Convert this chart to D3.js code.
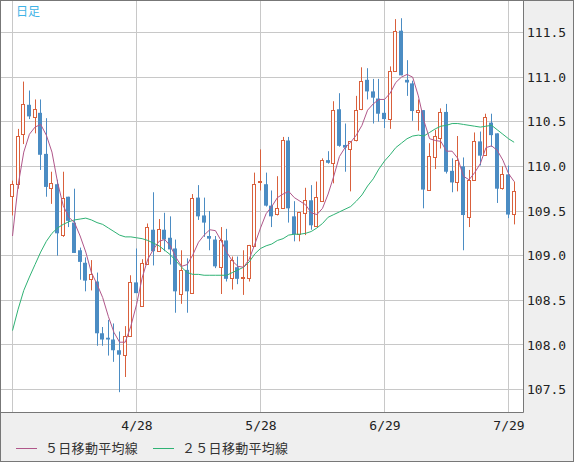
<!DOCTYPE html>
<html>
<head>
<meta charset="utf-8">
<script src="https://cdn.jsdelivr.net/npm/d3@7"></script>
<style>
  body { margin: 0; background: #fff; }
  svg { display: block; }
  .ax text { font-family: "DejaVu Sans Mono", monospace; font-size: 13px; fill: #222; }
  .lg { font-family: "Noto Sans CJK JP", sans-serif; font-size: 13px; fill: #333; }
</style>
</head>
<body>
<div id="chart"></div>
<script>
// daily candles, oldest first
var opens  = [109.67,109.80,110.36,110.69,110.56,110.60,110.14,109.76,109.80,109.24,
              109.66,109.37,109.06,108.92,108.73,108.71,108.13,108.08,108.06,107.94,
              107.89,108.09,108.70,108.44,108.91,109.29,109.05,109.29,109.20,109.08,
              108.57,108.84,108.59,109.65,109.45,109.22,109.18,108.87,109.17,108.75,
              108.87,108.75,108.75,109.11,109.83,109.80,109.56,109.46,109.53,110.29,
              109.44,109.24,109.47,109.62,109.33,109.61,110.07,110.04,110.64,110.24,
              110.19,110.29,110.65,110.97,110.84,110.76,110.60,110.53,111.07,111.52,
              110.97,110.93,110.61,110.63,109.74,110.10,110.32,110.61,109.95,109.82,
              110.00,109.44,109.84,110.28,110.12,110.49,110.37,109.75,109.91,109.46];
var highs  = [109.84,110.42,110.95,110.85,110.75,110.75,110.54,109.94,109.85,109.94,
              109.66,109.75,109.09,108.98,108.95,108.81,108.20,108.28,108.24,108.15,
              108.21,108.78,109.08,108.96,109.36,109.71,109.41,109.48,109.44,109.18,
              109.06,108.97,109.69,109.79,109.65,109.50,109.22,109.32,109.30,108.99,
              108.99,109.06,109.12,109.93,110.19,109.93,109.73,109.89,110.33,110.33,
              109.61,109.49,109.76,109.79,109.83,110.09,110.17,110.73,110.82,110.48,
              110.28,110.79,111.11,111.10,110.98,110.98,110.75,111.12,111.65,111.66,
              111.19,110.96,110.75,110.63,110.26,110.41,110.65,110.70,110.09,110.34,
              110.10,109.96,110.38,110.39,110.59,110.59,110.37,110.00,110.01,109.83];
var lows   = [109.45,109.75,110.25,110.53,110.37,109.96,109.66,109.58,109.00,109.21,
              109.32,109.03,108.73,108.60,108.61,107.99,107.99,107.88,107.81,107.47,
              107.64,108.09,108.58,108.43,108.91,108.89,109.05,109.05,108.90,108.36,
              108.46,108.36,108.57,109.40,109.21,109.06,108.86,108.57,108.71,108.62,
              108.68,108.56,108.71,109.11,109.73,109.55,109.32,109.45,109.53,109.37,
              109.16,109.16,109.23,109.29,109.33,109.61,110.03,109.81,110.22,109.94,
              109.72,110.28,110.63,110.75,110.48,110.50,110.43,110.42,111.07,111.02,
              110.79,110.51,110.40,109.53,109.73,109.97,110.20,109.92,109.71,109.72,
              109.06,109.32,109.84,110.01,110.12,110.22,109.59,109.74,109.42,109.35];
var closes = [109.80,110.34,110.70,110.56,110.645,110.13,109.77,109.815,109.25,109.65,
              109.39,109.03,108.93,108.72,108.79,108.13,108.06,108.06,107.94,107.89,
              108.10,108.70,108.58,108.92,109.32,109.05,109.30,109.18,109.07,108.60,
              108.84,108.60,109.65,109.44,109.37,109.19,108.88,109.17,108.74,108.95,
              108.74,108.76,109.12,109.80,109.84,109.56,109.44,109.53,110.29,109.53,
              109.24,109.49,109.62,109.34,109.66,110.07,110.04,110.63,110.23,110.21,
              110.28,110.63,110.96,110.84,110.77,110.59,110.53,111.07,111.52,111.02,
              110.94,110.62,110.63,109.74,110.12,110.34,110.61,109.94,109.82,110.07,
              109.455,109.85,110.28,110.12,110.55,110.35,109.75,109.91,109.46,109.72];

// moving averages as drawn
var ma5  = [109.22,109.79,110.16,110.36,110.44,110.47,110.35,110.16,109.82,109.56,
            109.43,109.37,109.22,109.04,108.81,108.68,108.53,108.32,108.14,108.03,
            108.03,108.21,108.45,108.75,108.96,109.07,109.16,109.18,109.11,108.98,
            108.88,108.90,109.01,109.15,109.23,109.29,109.28,109.17,109.04,108.94,
            108.88,108.87,108.96,109.13,109.31,109.47,109.55,109.65,109.69,109.72,
            109.65,109.61,109.57,109.48,109.46,109.53,109.69,109.89,110.11,110.21,
            110.27,110.35,110.46,110.63,110.70,110.75,110.75,110.82,110.94,111.00,
            111.03,111.00,110.79,110.51,110.31,110.29,110.28,110.17,110.17,110.09,
            109.89,109.85,109.93,110.03,110.21,110.23,110.18,110.07,109.92,109.83];
var ma25 = [108.16,108.40,108.61,108.76,108.90,109.04,109.16,109.25,109.31,109.35,
            109.38,109.40,109.41,109.42,109.40,109.37,109.35,109.31,109.27,109.23,
            109.21,109.21,109.20,109.19,109.17,109.14,109.11,109.06,109.01,108.94,
            108.87,108.81,108.79,108.79,108.78,108.78,108.78,108.78,108.78,108.81,
            108.84,108.87,108.93,109.02,109.08,109.11,109.13,109.17,109.19,109.23,
            109.24,109.24,109.25,109.27,109.31,109.36,109.43,109.46,109.49,109.52,
            109.55,109.61,109.68,109.78,109.86,109.97,110.06,110.13,110.21,110.26,
            110.31,110.34,110.35,110.34,110.38,110.42,110.45,110.46,110.48,110.48,
            110.47,110.46,110.45,110.44,110.45,110.46,110.41,110.36,110.31,110.27];

var priceTicks = [107.5,108.0,108.5,109.0,109.5,110.0,110.5,111.0,111.5];
var gridIdx    = [0,22,44,66,88];
var dateIdx    = [22,44,66,88];
var dateLabels = ["4/28","5/28","6/29","7/29"];
var legendText = ["５日移動平均線","２５日移動平均線"];

var colUp = "#d9603c", colDown = "#4b8cc3", colMa5 = "#b0578a", colMa25 = "#2fb274";

function drawChart(){
    var W = 574, H = 462;
    var plotR = 523, plotB = 412;

    var svg = d3.select("#chart").append("svg")
        .attr("width", W).attr("height", H);

    svg.append("rect").attr("x", 0).attr("y", 0).attr("width", W).attr("height", H)
        .attr("fill", "#efefef");
    svg.append("rect").attr("x", 1).attr("y", 1).attr("width", plotR - 1).attr("height", plotB - 1)
        .attr("fill", "#fff");

    var x = d3.scaleLinear().domain([0, 88]).range([12.5, 508.5]);
    var y = d3.scaleLinear().domain([107.5, 111.5]).range([389.5, 32.5]);
    var px = function(i){ return Math.floor(x(i)) + 0.5 };

    // grid
    svg.append("g").selectAll("line").data(priceTicks).enter().append("line")
        .attr("x1", 1).attr("x2", plotR)
        .attr("y1", function(d){ return Math.floor(y(d)) + 0.5 })
        .attr("y2", function(d){ return Math.floor(y(d)) + 0.5 })
        .attr("stroke", "#c8c8c8");
    svg.append("g").selectAll("line").data(gridIdx).enter().append("line")
        .attr("x1", function(d){ return px(d) }).attr("x2", function(d){ return px(d) })
        .attr("y1", 1).attr("y2", plotB)
        .attr("stroke", "#c8c8c8");

    // candles
    var data = opens.map(function(o, i){
        return {i: i, o: o, h: highs[i], l: lows[i], c: closes[i]};
    });
    var cg = svg.append("g").selectAll("g").data(data).enter().append("g");
    cg.append("line")
        .attr("x1", function(d){ return px(d.i) }).attr("x2", function(d){ return px(d.i) })
        .attr("y1", function(d){ return y(d.h) }).attr("y2", function(d){ return y(d.l) })
        .attr("stroke", function(d){ return d.c >= d.o ? colUp : colDown });
    cg.filter(function(d){ return d.c < d.o }).append("rect")
        .attr("x", function(d){ return px(d.i) - 2.5 })
        .attr("y", function(d){ return y(d.o) })
        .attr("width", 4)
        .attr("height", function(d){ return Math.max(1, y(d.c) - y(d.o)) })
        .attr("fill", colDown);
    cg.filter(function(d){ return d.c >= d.o }).append("rect")
        .attr("x", function(d){ return px(d.i) - 2 })
        .attr("y", function(d){ return Math.round(y(d.c)) + 0.5 })
        .attr("width", 3)
        .attr("height", function(d){ return Math.max(1, Math.round(y(d.o) - y(d.c))) })
        .attr("fill", "#fff")
        .attr("stroke", colUp);

    // moving averages
    var line = d3.line().x(function(d, i){ return x(i) }).y(function(d){ return y(d) });
    svg.append("path").datum(ma25).attr("d", line)
        .attr("fill", "none").attr("stroke", colMa25).attr("stroke-width", 1);
    svg.append("path").datum(ma5).attr("d", line)
        .attr("fill", "none").attr("stroke", colMa5).attr("stroke-width", 1);

    // frame
    svg.append("path").attr("d", "M1," + (plotB + 0.5) + "H" + (plotR + 0.5) + "V1")
        .attr("fill", "none").attr("stroke", "#777");
    svg.append("rect").attr("x", 0.5).attr("y", 0.5).attr("width", W - 1).attr("height", H - 1)
        .attr("fill", "none").attr("stroke", "#777");

    // axes
    var yAxis = d3.axisRight(y).tickValues(priceTicks)
        .tickFormat(d3.format(".1f")).tickSize(0).tickPadding(0);
    svg.append("g").attr("class", "ax").attr("transform", "translate(527,0)").call(yAxis)
        .call(function(g){ g.select(".domain").remove() });

    var xAxis = d3.axisBottom(x).tickValues(dateIdx)
        .tickFormat(function(d, i){ return dateLabels[i] }).tickSize(0).tickPadding(9);
    svg.append("g").attr("class", "ax").attr("transform", "translate(0," + plotB + ")").call(xAxis)
        .call(function(g){ g.select(".domain").remove() });

    // title
    svg.append("text").attr("x", 16).attr("y", 15.5).text("日足")
        .attr("font-family", "Noto Sans CJK JP, sans-serif").attr("font-size", 12)
        .attr("fill", "#3fb3e6");

    // legend
    var lgX = [16, 153], lgCol = [colMa5, colMa25];
    legendText.forEach(function(t, k){
        svg.append("line").attr("x1", lgX[k]).attr("x2", lgX[k] + 21)
            .attr("y1", 448.5).attr("y2", 448.5).attr("stroke", lgCol[k]);
        svg.append("text").attr("class", "lg").attr("x", lgX[k] + 29).attr("y", 453)
            .attr("letter-spacing", "0.3px").text(t);
    });
}

drawChart();
</script>
</body>
</html>
